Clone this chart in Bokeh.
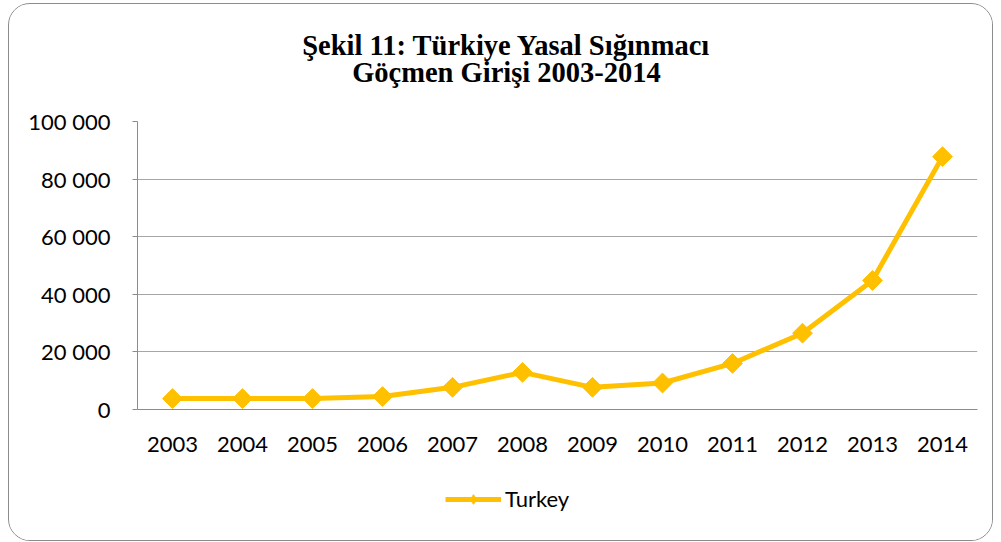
from bokeh.plotting import figure
from bokeh.layouts import column
from bokeh.models import FixedTicker, Label, Legend, LegendItem
from bokeh.embed import file_html
from bokeh.resources import INLINE

years = ["2003", "2004", "2005", "2006", "2007", "2008", "2009", "2010", "2011", "2012", "2013", "2014"]
turkey = [3800, 3800, 3800, 4500, 7700, 12900, 7700, 9200, 16000, 26500, 44800, 87800]
y_ticks = [0, 20000, 40000, 60000, 80000, 100000]
y_tick_labels = ["0", "20 000", "40 000", "60 000", "80 000", "100 000"]
title_lines = ["Şekil 11: Türkiye Yasal Sığınmacı", "Göçmen Girişi 2003-2014"]
series_name = "Turkey"

LABEL_FONT = "Lato"
COLOR = "#FFC000"
W = 983

# ---- title strip (its frame is aligned with the main chart's frame) ----
pt = figure(width=W, height=102, x_range=(0, 1), y_range=(0, 1),
            x_axis_location=None, y_axis_location=None,
            output_backend="svg", toolbar_location=None,
            min_border_left=0, min_border_right=0, min_border_top=0, min_border_bottom=0)
pt.title.visible = False
pt.outline_line_color = None
pt.xgrid.visible = False
pt.ygrid.visible = False
for i, t in enumerate(title_lines):
    pt.add_layout(Label(x=369, y=61 - 27 * i, x_units="screen", y_units="screen", text=t,
                        text_font="Liberation Serif", text_font_style="bold",
                        text_font_size="28.5px", text_align="center", text_baseline="middle",
                        text_color="black"))

# ---- main chart ----
p = figure(width=W, height=362, x_range=years, y_range=(0, 100000),
           output_backend="svg", toolbar_location=None,
           min_border_left=128, min_border_right=15, min_border_top=15, min_border_bottom=59)
p.x_range.range_padding = 0
p.title.visible = False
p.outline_line_color = None

r_line = p.line(years, turkey, line_color=COLOR, line_width=5)
r_mark = p.scatter(years, turkey, marker="square", angle=0.785398, size=14,
                   fill_color=COLOR, line_color=COLOR)

p.yaxis.ticker = FixedTicker(ticks=y_ticks)
p.yaxis.major_label_overrides = {t: s for t, s in zip(y_ticks, y_tick_labels)}
p.yaxis.minor_tick_line_color = None
p.yaxis.major_tick_out = 5
p.yaxis.major_tick_in = 0
p.yaxis.major_tick_line_color = "#8c8c8c"
p.yaxis.axis_line_color = "#8c8c8c"
p.yaxis.major_label_standoff = 22
p.yaxis.major_label_text_font = LABEL_FONT
p.yaxis.major_label_text_font_size = "22px"
p.yaxis.major_label_text_color = "black"

p.xaxis.major_tick_line_color = None
p.xaxis.minor_tick_line_color = None
p.xaxis.axis_line_color = "#8c8c8c"
p.xaxis.major_label_standoff = 21
p.xaxis.major_label_text_font = LABEL_FONT
p.xaxis.major_label_text_font_size = "22px"
p.xaxis.major_label_text_color = "black"

p.xgrid.grid_line_color = None
p.ygrid.grid_line_color = "#a6a6a6"
p.ygrid.grid_line_width = 1

# ---- legend strip ----
pl = figure(width=W, height=72, x_range=(0, 1), y_range=(0, 1),
            x_axis_location=None, y_axis_location=None,
            output_backend="svg", toolbar_location=None,
            min_border_left=0, min_border_right=0, min_border_top=0, min_border_bottom=0)
pl.title.visible = False
pl.outline_line_color = None
pl.xgrid.visible = False
pl.ygrid.visible = False
nan = float("nan")
lg_line = pl.line(x=[nan], y=[nan], line_color=COLOR, line_width=5)
lg_mark = pl.scatter(x=[nan], y=[nan], marker="diamond", size=20, fill_color=COLOR, line_color=COLOR)
legend = Legend(items=[LegendItem(label=series_name, renderers=[lg_line, lg_mark])],
                location=(308, 28), orientation="horizontal",
                glyph_width=56, glyph_height=24, label_standoff=4,
                label_text_font=LABEL_FONT, label_text_font_size="22px",
                label_text_color="black",
                border_line_color=None, background_fill_alpha=0, padding=0, margin=0)
pl.add_layout(legend, "center")

layout = column(pt, p, pl, spacing=0)
layout.styles = {"position": "relative", "left": "8px", "top": "3px",
                 "border": "1px solid #8c8c8c", "border-radius": "22px",
                 "overflow": "hidden", "background-color": "white"}

open("out.html", "w").write(file_html(layout, INLINE))
